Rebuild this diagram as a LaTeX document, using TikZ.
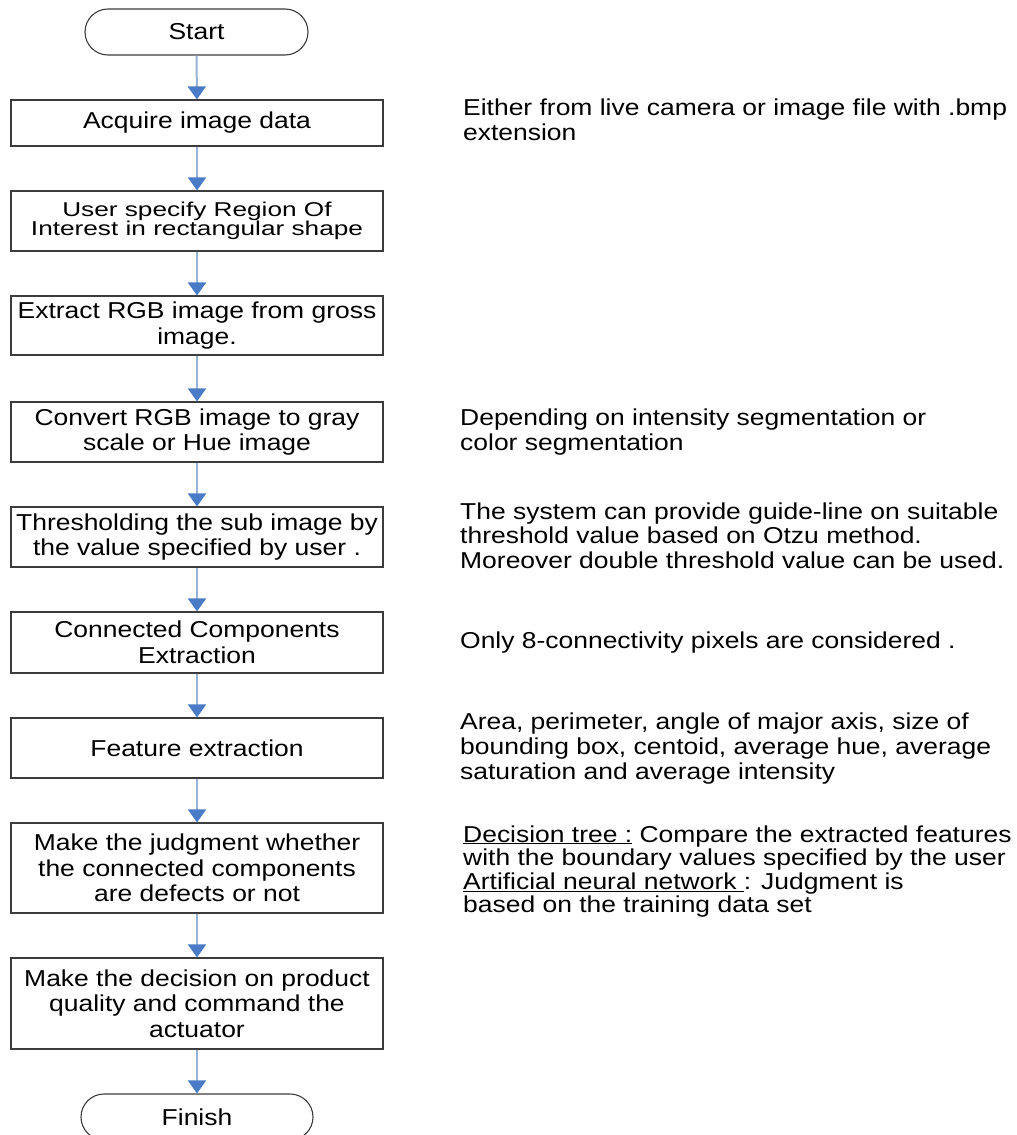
\documentclass[tikz,border=0pt]{standalone}
\usepackage{fontspec}
\setmainfont{Liberation Sans}
\newfontfamily\boxfam{Liberation Sans}[FakeStretch=1.15]
\newfontfamily\tightfam{Liberation Sans}[FakeStretch=1.31]
\usetikzlibrary{arrows.meta}
\definecolor{flowline}{HTML}{95B3D7}
\definecolor{flowhead}{HTML}{4A7BC6}
\definecolor{edgegray}{HTML}{3C3C3C}
\tikzset{
  stepbox/.style={draw=edgegray, line width=1.1pt, minimum width=372pt,
    inner sep=0pt, align=center, font=\boxfam\fontsize{23}{25.5}\selectfont},
  term/.style={stepbox, rounded corners=23pt, minimum height=46pt},
  flow/.style={draw=flowline, line width=2pt,
    -{Triangle[width=18pt,length=13pt,color=flowhead]}},
  note/.style={anchor=base west, inner sep=0pt, font=\boxfam\fontsize{23}{25.5}\selectfont}
}
\begin{document}
\begin{tikzpicture}[x=1pt,y=-1pt]
\useasboundingbox[fill=white] (0,0) rectangle (1017,1135);

% main flow
\node[term, minimum width=223pt] (start) at (196.5,32) {Start};
\node[stepbox, minimum height=46pt] (acq) at (197,123) {Acquire image data};
\node[stepbox, minimum height=60pt, font=\tightfam\fontsize{20}{18}\selectfont] (roi) at (197,221)
  {User specify Region Of\\Interest in rectangular shape};
\node[stepbox, minimum height=59pt] (rgb) at (197,325.5) {Extract RGB image from gross\\image.};
\node[stepbox, minimum height=60pt] (gray) at (197,432) {Convert RGB image to gray\\scale or Hue image};
\node[stepbox, minimum height=60pt] (thr) at (197,537) {Thresholding the sub image by\\the value specified by user .};
\node[stepbox, minimum height=61pt] (cc) at (197,642.5) {Connected Components\\Extraction};
\node[stepbox, minimum height=60pt] (feat) at (197,748) {Feature extraction};
\node[stepbox, minimum height=90pt] (judge) at (197,868) {Make the judgment whether\\the connected components\\are defects or not};
\node[stepbox, minimum height=91pt] (decide) at (197,1003.5) {Make the decision on product\\quality and command the\\actuator};
\node[term, minimum width=232pt] (finish) at (197,1117) {Finish};

\draw[flow] (start) -- (acq);
\draw[flow] (acq) -- (roi);
\draw[flow] (roi) -- (rgb);
\draw[flow] (rgb) -- (gray);
\draw[flow] (gray) -- (thr);
\draw[flow] (thr) -- (cc);
\draw[flow] (cc) -- (feat);
\draw[flow] (feat) -- (judge);
\draw[flow] (judge) -- (decide);
\draw[flow] (decide) -- (finish);

% side remarks
\node[note] (nacq) at (463,115) {\begin{tabular}[t]{@{}l@{}}Either from live camera or image file with .bmp\\extension\end{tabular}};
\node[note] (ngray) at (460,425) {\begin{tabular}[t]{@{}l@{}}Depending on intensity segmentation or\\color segmentation\end{tabular}};
\node[note, font=\boxfam\fontsize{23}{24.7}\selectfont] (nthr) at (460,519) {\begin{tabular}[t]{@{}l@{}}The system can provide guide-line on suitable\\threshold value based on Otzu method.\\Moreover double threshold value can be used.\end{tabular}};
\node[note] (ncc) at (460,648) {Only 8-connectivity pixels are considered .};
\node[note, font=\boxfam\fontsize{23}{25}\selectfont] (nfeat) at (460,729) {\begin{tabular}[t]{@{}l@{}}Area, perimeter, angle of major axis, size of\\bounding box, centoid, average hue, average\\saturation and average intensity\end{tabular}};
\node[note, font=\boxfam\fontsize{23}{23.3}\selectfont] (njudge) at (463,842) {\begin{tabular}[t]{@{}l@{}}\underline{Decision tree :} Compare the extracted features\\with the boundary values specified by the user\\\underline{Artificial neural network }: Judgment is\\based on the training data set\end{tabular}};
\end{tikzpicture}
\end{document}
